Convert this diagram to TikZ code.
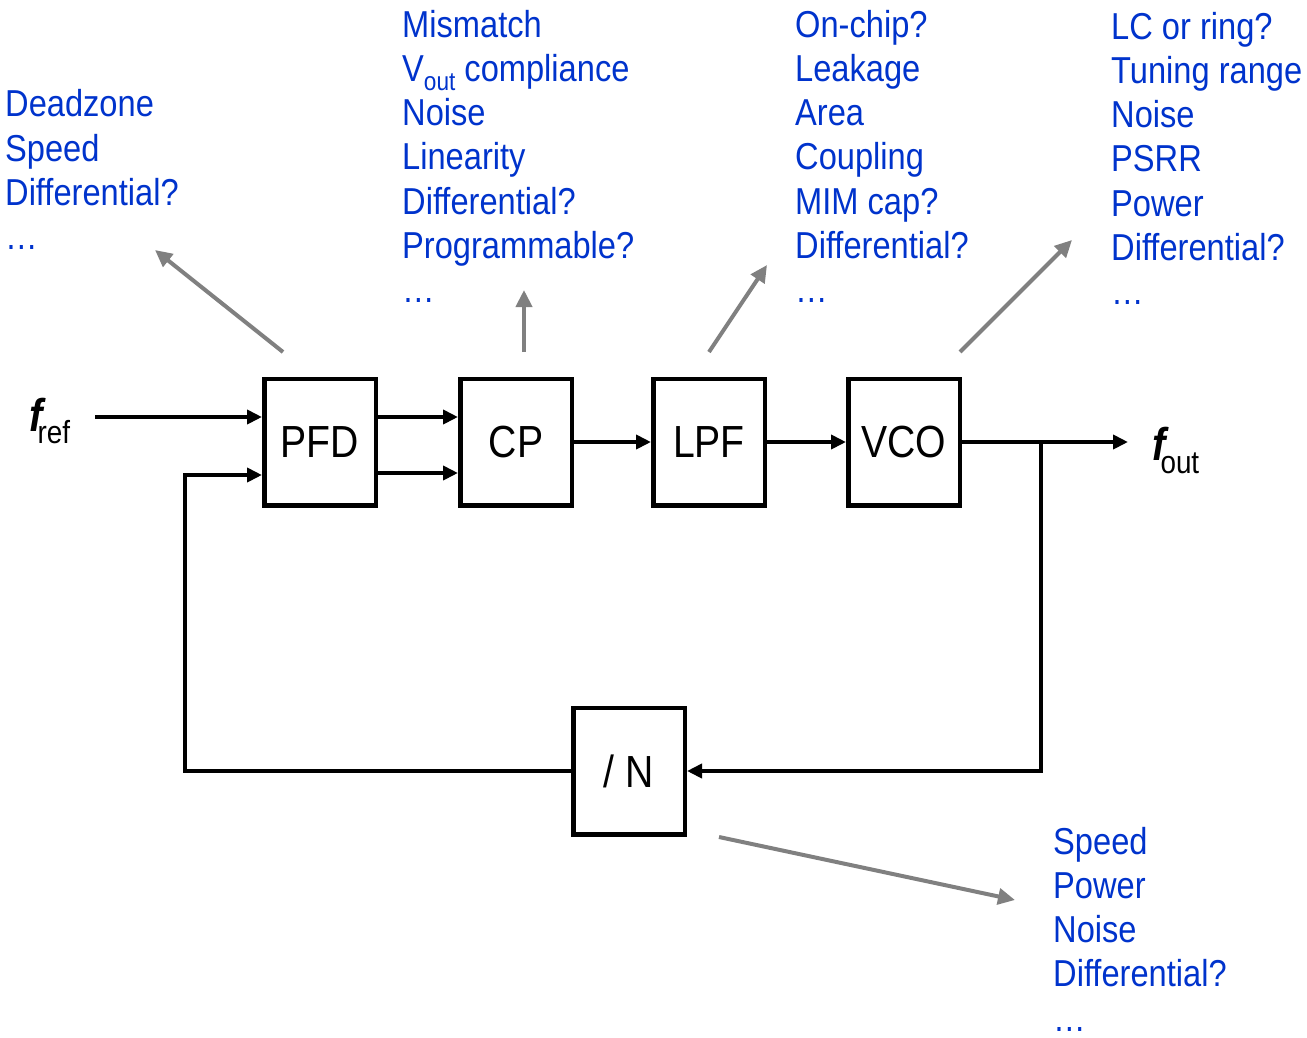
\documentclass[tikz,border=0pt]{standalone}
\usepackage{fontspec}
\setmainfont{Liberation Sans}[FakeStretch=0.87]
\usetikzlibrary{arrows.meta}
\definecolor{notecol}{HTML}{0033CC}
\definecolor{pointcol}{HTML}{808080}
\tikzset{
  block/.style={draw, line width=4.5pt, minimum width=111.5pt, minimum height=126.5pt,
    inner sep=0pt, font=\fontsize{45}{45}\selectfont},
  sig/.style={line width=4pt, -{Triangle[length=15pt,width=14pt]}},
  wire/.style={line width=4pt},
  pointer/.style={pointcol, line width=4pt, -{Triangle[length=17pt,width=16pt]}},
  % the base anchor of a multi-line node sits on its last line
  notes/.style={notecol, anchor=base west, align=left, inner sep=0pt,
    font=\fontsize{37.5}{44.3}\selectfont},
}
\newcommand{\subtxt}[1]{{\fontsize{26}{26}\selectfont\raisebox{-9pt}{#1}}}
\newcommand{\moredots}{\\[0pt]\ldots}
\begin{document}
\begin{tikzpicture}[x=1pt,y=-1pt]
\useasboundingbox (0,0) rectangle (1307,1037);

% loop blocks
\node[block] (pfd) at (320,442) {PFD};
\node[block] (cp)  at (516,442) {CP};
\node[block] (lpf) at (709,442) {LPF};
\node[block] (vco) at (904,442) {VCO};
\node[block] (div) at (629,771) {/ N};

% input and output labels
\node[anchor=base west, inner sep=0pt] (fref) at (29,431)
  {{\fontsize{46}{46}\selectfont\bfseries\itshape f}\kern-5pt{\fontsize{32}{32}\selectfont\raisebox{-12pt}{ref}}};
\node[anchor=base west, inner sep=0pt] (fout) at (1152,460)
  {{\fontsize{46}{46}\selectfont\bfseries\itshape f}\kern-5pt{\fontsize{32}{32}\selectfont\raisebox{-13pt}{out}}};

% forward path
\coordinate (fin) at (95,417);
\draw[sig] (fin) -- (fin -| pfd.west);
\draw[sig] ([yshift=25pt]pfd.east) -- ([yshift=25pt]cp.west);
\draw[sig] ([yshift=-31pt]pfd.east) -- ([yshift=-31pt]cp.west);
\draw[sig] (cp.east) -- (lpf.west);
\draw[sig] (lpf.east) -- (vco.west);
\coordinate (fo) at (1128,442);
\draw[sig] (vco.east) -- (fo);

% feedback path
\coordinate (br) at (1041,442);
\draw[sig] (br) |- (div.east);
\coordinate (fbl) at (185,771);
\coordinate (fbu) at (185,475);
\draw[sig] (div.west) -- (fbl) -- (fbu) -- (fbu -| pfd.west);

% design concerns for each block
\node[notes] (npfd) at (5,249.8) {Deadzone\\Speed\\Differential?\moredots};
\node[notes] (ncp) at (402,302.8) {Mismatch\\V\subtxt{out} compliance\\Noise\\Linearity\\Differential?\\Programmable?\moredots};
\node[notes] (nlpf) at (795,302.8) {On-chip?\\Leakage\\Area\\Coupling\\MIM cap?\\Differential?\moredots};
\node[notes] (nvco) at (1111,304.8) {LC or ring?\\Tuning range\\Noise\\PSRR\\Power\\Differential?\moredots};
\node[notes] (ndiv) at (1053,1031.2) {Speed\\Power\\Noise\\Differential?\moredots};

% pointers from blocks to their notes
\coordinate (p1s) at (283,352); \coordinate (p1e) at (155,250);
\coordinate (p2s) at (524,352); \coordinate (p2e) at (524,290);
\coordinate (p3s) at (709,352); \coordinate (p3e) at (767,265);
\coordinate (p4s) at (960,352); \coordinate (p4e) at (1072,240);
\coordinate (p5s) at (719,837); \coordinate (p5e) at (1015,900);
\draw[pointer] (p1s) -- (p1e);
\draw[pointer] (p2s) -- (p2e);
\draw[pointer] (p3s) -- (p3e);
\draw[pointer] (p4s) -- (p4e);
\draw[pointer] (p5s) -- (p5e);
\end{tikzpicture}
\end{document}
